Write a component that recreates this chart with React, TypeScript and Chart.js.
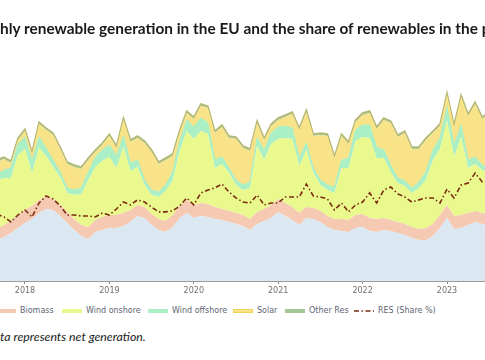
import React, { useEffect, useRef } from "react";
import { Chart, registerables } from "chart.js";

Chart.register(...registerables);

// ---- Data (TWh per month, Sep 2017 .. Jul 2023) ----
const startYear = 2017;
const startMonth = 9; // September
const hydro = [20.5,22,24,26.5,29,31,34,36,35.5,32.5,29,25.5,22.5,21,24.5,25.5,26.5,26.5,27.5,29.5,32.5,31.5,28,25.5,24.5,27,31.5,34,31.5,32.5,32,31,30.5,29.5,28.5,27.5,25.5,28.5,30,31.5,34.5,32.5,30.5,28,31.5,31,29.5,27,25.5,25,24.5,26.5,27,25,24.5,25.5,25,24,23,21.5,20.5,20.5,22.5,26.5,31.5,26,26.5,28,29.5,28.5,27.5];
const biomass = [5.5,6,6,6.5, 6.5,6.5,6.5,6,5.5,5.5,5.5,5.5,5.5,6,6,6.5, 6.5,6.5,6.5,6,5.5,5.5,5.5,5.5,5.5,6,6,6.5, 6.5,6.5,6.5,6,5.5,5.5,5.5,5.5,5.5,6,6,6.5, 6.5,6.5,6.5,6,5.5,5.5,5.5,5.5,5.5,6,6,6.5, 6.5,6.5,6.5,6,5.5,5.5,5.5,5.5,5.5,6,6,6.5, 6.5,6.5,6.5,6,5.5,5.5,5.5];
const windOnshore = [24,23.5,21.5,30,30.5,16.5,26,20.5,16,14,9.5,12,15.5,23.5,26.5,28,29,23.5,33,19.5,19,11,9.5,11,15,17.5,27.5,34.5,33,36,35,19.5,22.5,19,14,12.5,15.5,33,24.5,30.5,30,32.5,34,23.5,28.5,17.5,13,13,13,25.5,26,37,38.5,40,30.5,30,24,19.5,19,17,20.5,24,32,33,42,29.5,39,22.5,23.5,21.5,21];
const windOffshore = [3,4,5,5.5, 6,6,5.5,4,3.5,2.5,2.5,2.5,3,4,5,5.5, 6,6,5.5,4,3.5,2.5,2.5,2.5,3,4,5,5.5, 6,6.5,5.5,4,3.5,2.5,2.5,2.5,3,4,5,5.5, 6,6,5.5,4,3.5,2.5,2.5,2.5,3,4,5,5.5, 6,6.5,5.5,4,3.5,2.5,2.5,2.5,3,4,5,5.5, 7,6,6,4,3.5,2.5,2.5];
const solar = [6.5,5.5,2.5,2,3,3.5,6.5,9,12.5,11.5,12,11.5,9.5,6,2.5,2.5,4.5,4,8,10.5,11,18.5,19,14,12.5,8,4.5,3.5,4,6,7.5,13.5,15,15,20.5,18.5,15.5,7.5,5,3.5,3.5,4.5,7,14,15.5,16,22.5,24.5,14.5,12,7,4,5,6,9,15,21,20.5,24,19.5,16.5,16,8.5,6,6,9,14,22,26.5,23,27];
const otherRes = [1,1,1,1,1,1,1,1,1,1,1,1,1,1,1,1,1,1,1,1,1,1,1,1,1,1,1,1,1,1,1,1,1,1,1,1,1,1,1,1,1,1,1,1,1,1,1,1,1,1,1,1,1,1,1,1,1,1,1,1,1,1,1,1,1,1,1,1,1,1,1];
// RES share of the power mix (%)
const resShare = [27.9,26.7,24.6,27.5,29.6,26.7,32.5,35.4,34.2,31.3,27.5,27.5,27.1,27.1,26.7,28.3,27.5,30,32.9,31.7,33.8,32.9,30.8,28.8,28.8,29.2,31.3,34.6,31.7,36.7,37.9,38.8,40.4,37.1,34.6,32.9,32.5,35.8,31.7,32.5,32.5,35,35,35,40.4,35.4,35,34.2,29.6,32.5,28.8,31.7,32.9,36.7,32.5,37.9,39.2,36.3,35,32.9,33.8,34.6,34.6,32.5,38.3,34.6,40,40.8,45,41.3,42.1];

const yearTicks = [2018, 2019, 2020, 2021, 2022, 2023];
const seriesNames = ["Hydro", "Biomass", "Wind onshore", "Wind offshore", "Solar", "Other Res", "RES (Share %)"];

const TITLE = "Monthly renewable generation in the EU and the share of renewables in the power mix";
const FOOT = "Data represents net generation.";

// visible window of the (cropped) time axis
const xMin = 2017.704;
const xMax = 2023.45;

const colors = {
  hydro: "#dce8f1",
  biomass: "#f5c9b2",
  onshore: "#eaf98e",
  offshore: "#abefc4",
  solar: "#f9e389",
  other: "#a3c796",
  otherLine: "#b7b872",
  res: "#7a2b10",
};

const legendDefs = [
  { name: seriesNames[0], color: colors.hydro, x: -59 },
  { name: seriesNames[1], color: colors.biomass, x: -4 },
  { name: seriesNames[2], color: colors.onshore, x: 62 },
  { name: seriesNames[3], color: colors.offshore, x: 148 },
  { name: seriesNames[4], color: colors.solar, x: 233, border: "#efd25a" },
  { name: seriesNames[5], color: colors.other, x: 285 },
  { name: seriesNames[6], color: colors.res, x: 354, dash: true },
];

export default function App() {
  const ref = useRef<HTMLCanvasElement | null>(null);

  useEffect(() => {
    if (!ref.current) return;
    const xs = hydro.map((_, i) => startYear + (startMonth - 1 + i) / 12);
    const pts = (arr: number[]) => arr.map((v, i) => ({ x: xs[i], y: v }));
    const area = (label: string, arr: number[], bg: string, fill: any, border?: string, bw = 0) => ({
      label,
      data: pts(arr),
      yAxisID: "y",
      backgroundColor: bg,
      borderColor: border || bg,
      borderWidth: bw,
      fill,
      pointRadius: 0,
      tension: 0,
      stack: "res",
    });

    const chart = new Chart(ref.current, {
      type: "line",
      data: {
        datasets: [
          area(seriesNames[0], hydro, colors.hydro, "origin"),
          area(seriesNames[1], biomass, colors.biomass, "-1"),
          area(seriesNames[2], windOnshore, colors.onshore, "-1"),
          area(seriesNames[3], windOffshore, colors.offshore, "-1", colors.offshore, 1),
          area(seriesNames[4], solar, colors.solar, "-1"),
          area(seriesNames[5], otherRes, colors.other, "-1", colors.otherLine, 1.5),
          {
            label: seriesNames[6],
            data: pts(resShare),
            yAxisID: "y1",
            borderColor: colors.res,
            borderWidth: 1.6,
            borderDash: [5, 2.5, 1.5, 2.5],
            fill: false,
            pointRadius: 0,
            tension: 0,
            order: -1,
          } as any,
        ],
      },
      options: {
        animation: false,
        responsive: false,
        maintainAspectRatio: false,
        layout: { padding: { top: 41, left: 0, right: 0, bottom: 0 } },
        plugins: {
          legend: { display: false },
          tooltip: { enabled: false },
          title: { display: false },
        },
        scales: {
          x: {
            type: "linear",
            min: xMin,
            max: xMax,
            afterFit: (s: any) => {
              s.height = 19;
            },
            afterBuildTicks: (s: any) => {
              s.ticks = yearTicks.map((v) => ({ value: v }));
            },
            ticks: {
              autoSkip: false,
              maxRotation: 0,
              padding: 2,
              color: "#6f6f6f",
              font: { family: "DejaVu Sans", size: 8 },
              callback: (v: any) => String(v),
            },
            grid: {
              display: true,
              drawOnChartArea: false,
              drawTicks: true,
              tickLength: 3,
              color: "#8a8a8a",
              lineWidth: 1,
            },
            border: { display: true, color: "#9c9c9c", width: 2 },
          },
          y: { stacked: true, display: false, min: 0, max: 120 },
          y1: { display: false, min: 0, max: 100, position: "right", stacked: false },
        },
      } as any,
    });
    return () => chart.destroy();
  }, []);

  const titleSplit = 4; // "Mont" falls outside the crop
  const footSplit = 2; // "Da" falls outside the crop

  return (
    <div
      style={{
        position: "absolute",
        left: 0,
        top: 0,
        width: 485,
        height: 360,
        overflow: "hidden",
        background: "#ffffff",
      }}
    >
      <canvas ref={ref} width={485} height={300} style={{ position: "absolute", left: 0, top: 0, width: 485, height: 300 }} />
      <div
        style={{
          position: "absolute",
          left: 0,
          top: 20,
          whiteSpace: "nowrap",
          fontFamily: "Lato, 'Open Sans', sans-serif",
          fontWeight: 700,
          fontSize: 15.4,
          lineHeight: "16px",
          color: "#1a1a1a",
        }}
      >
        <span style={{ position: "absolute", right: "100%", top: 0 }}>{TITLE.slice(0, titleSplit)}</span>
        {TITLE.slice(titleSplit)}
      </div>
      {legendDefs.map((d) => (
        <React.Fragment key={d.name}>
          {d.dash ? (
            <svg style={{ position: "absolute", left: d.x, top: 308 }} width={20} height={6}>
              <line x1={0} y1={3} x2={20} y2={3} stroke={d.color} strokeWidth={1.6} strokeDasharray="5,2.5,1.5,2.5" />
            </svg>
          ) : (
            <div
              style={{
                position: "absolute",
                left: d.x,
                top: 309,
                width: 20,
                height: 4,
                background: d.color,
                boxSizing: "border-box",
                border: d.border ? `1px solid ${d.border}` : "none",
              }}
            />
          )}
          <div
            style={{
              position: "absolute",
              left: d.x + 24,
              top: 306,
              whiteSpace: "nowrap",
              fontFamily: "'DejaVu Sans', sans-serif",
              fontSize: 8,
              lineHeight: "10px",
              color: "#5d6673",
            }}
          >
            {d.name}
          </div>
        </React.Fragment>
      ))}
      <div
        style={{
          position: "absolute",
          left: 0,
          top: 330,
          whiteSpace: "nowrap",
          fontFamily: "Lato, 'Open Sans', sans-serif",
          fontStyle: "italic",
          fontSize: 12.3,
          lineHeight: "14px",
          color: "#1a1a1a",
        }}
      >
        <span style={{ position: "absolute", right: "100%", top: 0 }}>{FOOT.slice(0, footSplit)}</span>
        {FOOT.slice(footSplit)}
      </div>
    </div>
  );
}
